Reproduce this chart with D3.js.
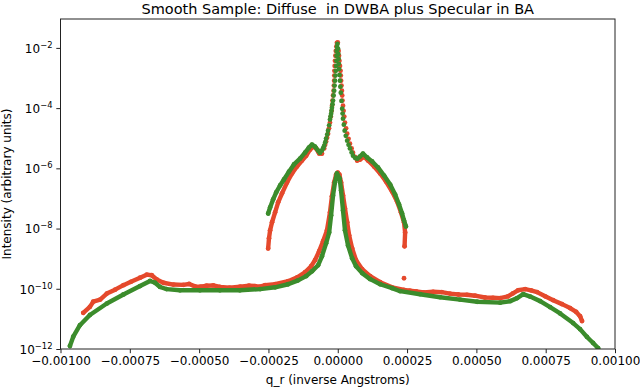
<!DOCTYPE html>
<html><head><meta charset="utf-8">
<script src="https://cdn.jsdelivr.net/npm/d3@7"></script>
<style>body{margin:0;background:#fff}svg{display:block}text{font-family:"DejaVu Sans",sans-serif}</style>
</head><body><svg id="c" width="640" height="387"></svg>
<script>
const titleText = "Smooth Sample: Diffuse  in DWBA plus Specular in BA";
const xLabelText = "q_r (inverse Angstroms)";
const yLabelText = "Intensity (arbitrary units)";
const xTicks = [-0.001, -0.00075, -0.0005, -0.00025, 0, 0.00025, 0.0005, 0.00075, 0.001];
const xTickLabels = ["\u22120.00100", "\u22120.00075", "\u22120.00050", "\u22120.00025", "0.00000", "0.00025", "0.00050", "0.00075", "0.00100"];
const yTickExponents = [-12, -10, -8, -6, -4, -2];

// ---- green series (q in inverse Angstroms, log10 intensity) ----
const greenDiffuseQ = [-9.66e-4,-9.54e-4,-9.30e-4,-8.94e-4,-8.33e-4,-7.73e-4,-7.13e-4,-6.77e-4,-6.59e-4,-6.41e-4,-6.17e-4,-5.69e-4,-4.97e-4,-4.25e-4,-3.53e-4,-2.80e-4,-2.26e-4,-1.79e-4,-1.43e-4,-1.14e-4,-0.93e-4,-0.71e-4,-0.57e-4,-0.42e-4,-0.31e-4,-0.24e-4,-0.17e-4,-0.10e-4,-0.03e-4,0.07e-4,0.12e-4,0.19e-4,0.26e-4,0.37e-4,0.52e-4,0.66e-4,0.88e-4,1.17e-4,1.53e-4,1.96e-4,2.25e-4,2.97e-4,3.69e-4,4.41e-4,5.03e-4,5.86e-4,6.22e-4,6.47e-4,6.69e-4,6.94e-4,7.30e-4,7.66e-4,8.02e-4,8.49e-4,8.74e-4,8.99e-4,9.21e-4,9.39e-4];
const greenDiffuseLog = [-11.90,-11.59,-11.21,-10.87,-10.49,-10.19,-9.91,-9.74,-9.80,-9.94,-10.01,-10.05,-10.05,-10.05,-10.05,-10.01,-9.95,-9.85,-9.72,-9.58,-9.42,-9.22,-8.92,-8.49,-8.13,-7.56,-6.90,-6.47,-6.17,-6.34,-6.74,-7.40,-8.06,-8.56,-8.99,-9.25,-9.48,-9.68,-9.85,-9.98,-10.08,-10.18,-10.28,-10.36,-10.43,-10.46,-10.41,-10.31,-10.18,-10.26,-10.41,-10.61,-10.82,-11.14,-11.34,-11.60,-11.80,-11.97];
const greenUpperLeftQ = [-2.51e-4,-2.44e-4,-2.33e-4,-2.22e-4,-2.08e-4,-1.94e-4,-1.76e-4,-1.58e-4,-1.36e-4,-1.18e-4,-1.04e-4,-0.93e-4,-0.82e-4,-0.71e-4,-0.64e-4];
const greenUpperLeftLog = [-7.50,-7.30,-7.03,-6.80,-6.57,-6.37,-6.11,-5.87,-5.68,-5.48,-5.31,-5.21,-5.28,-5.41,-5.48];
const greenSpikeQ = [-0.57e-4,-0.53e-4,-0.49e-4,-0.45e-4,-0.42e-4,-0.38e-4,-0.35e-4,-0.31e-4,-0.28e-4,-0.26e-4,-0.24e-4,-0.225e-4,-0.21e-4,-0.19e-4,-0.17e-4,-0.15e-4,-0.13e-4,-0.115e-4,-0.10e-4,-0.085e-4,-0.07e-4,-0.06e-4,-0.05e-4,-0.045e-4,-0.04e-4,-0.025e-4,-0.01e-4,0.01e-4,0.02e-4,0.03e-4,0.04e-4,0.05e-4,0.065e-4,0.08e-4,0.095e-4,0.11e-4,0.135e-4,0.16e-4,0.175e-4,0.19e-4,0.22e-4,0.25e-4,0.29e-4,0.34e-4,0.39e-4,0.44e-4,0.50e-4,0.55e-4,0.62e-4];
const greenSpikeLog = [-5.41,-5.33,-5.25,-5.13,-5.01,-4.88,-4.75,-4.57,-4.38,-4.28,-4.19,-4.09,-3.99,-3.87,-3.75,-3.58,-3.42,-3.25,-3.09,-2.92,-2.76,-2.60,-2.43,-2.26,-2.10,-1.97,-1.87,-2.03,-2.20,-2.36,-2.53,-2.70,-2.90,-3.09,-3.29,-3.49,-3.76,-4.02,-4.18,-4.35,-4.55,-4.75,-4.92,-5.08,-5.22,-5.34,-5.47,-5.58,-5.65];
const greenUpperRightQ = [0.70e-4,0.80e-4,0.91e-4,1.06e-4,1.24e-4,1.45e-4,1.67e-4,1.89e-4,2.07e-4,2.21e-4,2.32e-4,2.39e-4,2.46e-4];
const greenUpperRightLog = [-5.68,-5.61,-5.51,-5.64,-5.77,-5.97,-6.24,-6.54,-6.87,-7.20,-7.50,-7.73,-7.93];

// ---- red series ----
const redDiffuseQ = [-9.18e-4,-8.94e-4,-8.82e-4,-8.57e-4,-8.33e-4,-8.03e-4,-7.73e-4,-7.46e-4,-7.13e-4,-6.89e-4,-6.71e-4,-6.53e-4,-6.29e-4,-5.93e-4,-5.57e-4,-5.36e-4,-5.15e-4,-4.94e-4,-4.73e-4,-4.49e-4,-4.25e-4,-3.90e-4,-3.52e-4,-3.20e-4,-2.98e-4,-2.80e-4,-2.62e-4,-2.26e-4,-1.79e-4,-1.46e-4,-1.18e-4,-0.96e-4,-0.82e-4,-0.67e-4,-0.53e-4,-0.39e-4,-0.28e-4,-0.21e-4,-0.13e-4,-0.06e-4,0,0.06e-4,0.12e-4,0.19e-4,0.26e-4,0.34e-4,0.41e-4,0.52e-4,0.66e-4,0.88e-4,1.17e-4,1.53e-4,1.96e-4,2.39e-4,2.60e-4,2.83e-4,3.10e-4,3.44e-4,3.75e-4,4.05e-4,4.35e-4,4.66e-4,4.95e-4,5.31e-4,5.60e-4,5.86e-4,6.14e-4,6.32e-4,6.50e-4,6.76e-4,6.97e-4,7.19e-4,7.48e-4,7.77e-4,8.09e-4,8.38e-4,8.60e-4,8.74e-4,8.81e-4];
const redDiffuseLog = [-10.80,-10.60,-10.43,-10.36,-10.16,-10.03,-9.88,-9.77,-9.63,-9.53,-9.55,-9.69,-9.80,-9.86,-9.87,-9.84,-9.92,-9.93,-9.90,-9.89,-9.94,-9.96,-9.93,-9.90,-9.91,-9.93,-9.88,-9.85,-9.75,-9.62,-9.45,-9.25,-9.05,-8.75,-8.42,-8.06,-7.46,-6.93,-6.47,-6.21,-6.14,-6.21,-6.47,-6.90,-7.33,-7.79,-8.22,-8.66,-9.05,-9.35,-9.58,-9.78,-9.95,-10.04,-10.06,-10.09,-10.12,-10.10,-10.11,-10.16,-10.19,-10.20,-10.23,-10.29,-10.30,-10.31,-10.25,-10.15,-10.05,-10.01,-10.05,-10.11,-10.25,-10.38,-10.51,-10.64,-10.77,-10.91,-11.07];
const redUpperLeftQ = [-2.51e-4,-2.48e-4,-2.44e-4,-2.37e-4,-2.26e-4,-2.15e-4,-2.01e-4,-1.83e-4,-1.65e-4,-1.47e-4,-1.29e-4,-1.14e-4,-1.00e-4,-0.89e-4,-0.78e-4,-0.67e-4,-0.57e-4];
const redUpperLeftLog = [-8.66,-8.32,-8.06,-7.79,-7.46,-7.13,-6.83,-6.47,-6.17,-5.94,-5.74,-5.58,-5.38,-5.28,-5.34,-5.51,-5.51];
const redSpikeQ = [-0.49e-4,-0.455e-4,-0.42e-4,-0.385e-4,-0.35e-4,-0.315e-4,-0.28e-4,-0.25e-4,-0.22e-4,-0.205e-4,-0.19e-4,-0.17e-4,-0.15e-4,-0.14e-4,-0.13e-4,-0.125e-4,-0.12e-4,-0.11e-4,-0.10e-4,-0.085e-4,-0.07e-4,-0.05e-4,-0.03e-4,0,0.03e-4,0.045e-4,0.06e-4,0.08e-4,0.10e-4,0.11e-4,0.12e-4,0.135e-4,0.15e-4,0.16e-4,0.17e-4,0.19e-4,0.21e-4,0.235e-4,0.26e-4,0.30e-4,0.34e-4,0.39e-4,0.44e-4,0.50e-4,0.55e-4,0.62e-4,2.39e-4];
const redSpikeLog = [-5.34,-5.22,-5.11,-4.98,-4.85,-4.67,-4.48,-4.28,-4.09,-3.92,-3.75,-3.58,-3.42,-3.25,-3.09,-2.92,-2.76,-2.60,-2.43,-2.26,-2.10,-1.95,-1.83,-1.82,-2.10,-2.26,-2.43,-2.60,-2.76,-2.92,-3.09,-3.25,-3.42,-3.58,-3.75,-3.92,-4.09,-4.28,-4.48,-4.67,-4.85,-5.02,-5.18,-5.34,-5.48,-5.62,-9.65];
const redUpperRightQ = [0.70e-4,0.80e-4,0.95e-4,1.09e-4,1.31e-4,1.53e-4,1.74e-4,1.96e-4,2.14e-4,2.28e-4,2.39e-4,2.43e-4,2.41e-4];
const redUpperRightLog = [-5.74,-5.71,-5.61,-5.74,-5.94,-6.17,-6.44,-6.77,-7.10,-7.46,-7.79,-8.13,-8.59];

const RED = "#e5492c", GREEN = "#3b8c2c";
const L = 60.5, R = 615, T = 19, B = 349;
const svg = d3.select("#c");
const x = d3.scaleLinear().domain([-0.001, 0.001]).range([L, R]);
const y = d3.scaleLog().domain([1e-12, Math.pow(10, -1.04)]).range([B, T]);

svg.append("defs").append("clipPath").attr("id", "clip")
  .append("rect").attr("x", L).attr("y", T).attr("width", R - L).attr("height", B - T);
const plot = svg.append("g").attr("clip-path", "url(#clip)");

function pts(qs, ls) { return qs.map((q, i) => [q, Math.pow(10, ls[i])]); }
const line = d3.line().x(d => x(d[0])).y(d => y(d[1]));

function drawSeries(color, joined, dotsOnly) {
  const g = plot.append("g");
  joined.forEach(p => {
    g.append("path").attr("d", line(p)).attr("fill", "none").attr("stroke", color)
      .attr("stroke-width", 4.4).attr("stroke-linecap", "round").attr("stroke-linejoin", "round");
  });
  [...joined, ...dotsOnly].forEach(p => {
    g.selectAll(null).data(p).enter().append("circle")
      .attr("cx", d => x(d[0])).attr("cy", d => y(d[1])).attr("r", 2.4).attr("fill", color);
  });
}
drawSeries(RED,
  [pts(redDiffuseQ, redDiffuseLog), pts(redUpperLeftQ, redUpperLeftLog), pts(redUpperRightQ, redUpperRightLog)],
  [pts(redSpikeQ, redSpikeLog)]);
drawSeries(GREEN,
  [pts(greenDiffuseQ, greenDiffuseLog), pts(greenUpperLeftQ, greenUpperLeftLog), pts(greenUpperRightQ, greenUpperRightLog)],
  [pts(greenSpikeQ, greenSpikeLog)]);

// axes
const xAxis = svg.append("g").attr("transform", `translate(0,${B})`)
  .call(d3.axisBottom(x).tickValues(xTicks).tickFormat((d, i) => xTickLabels[i]).tickSize(4.2).tickPadding(3.5));
xAxis.select(".domain").remove();
xAxis.selectAll("line").attr("stroke", "#222");
xAxis.selectAll("text").attr("font-size", 12).attr("fill", "#000").attr("font-family", "DejaVu Sans");

const yVals = yTickExponents.map(e => Math.pow(10, e));
const yAxis = svg.append("g").attr("transform", `translate(${L},0)`)
  .call(d3.axisLeft(y).tickValues(yVals).tickFormat(() => "").tickSize(4.2));
yAxis.select(".domain").remove();
yAxis.selectAll("line").attr("stroke", "#222");
yAxis.selectAll(".tick").each(function (d, i) {
  const t = d3.select(this).append("text").attr("x", -8).attr("y", 4.3)
    .attr("text-anchor", "end").attr("fill", "#000").attr("font-size", 12);
  t.append("tspan").text("10");
  t.append("tspan").attr("font-size", 8.4).attr("dy", -5).text("\u2212" + Math.abs(yTickExponents[i]));
});

svg.append("rect").attr("x", L).attr("y", T).attr("width", R - L).attr("height", B - T)
  .attr("fill", "none").attr("stroke", "#222").attr("stroke-width", 1);

svg.append("text").attr("x", (L + R) / 2).attr("y", 14).attr("text-anchor", "middle")
  .attr("font-size", 14.5).attr("fill", "#000").style("white-space", "pre").text(titleText);
svg.append("text").attr("x", (L + R) / 2).attr("y", 384).attr("text-anchor", "middle")
  .attr("font-size", 12).attr("fill", "#000").text(xLabelText);
svg.append("text").attr("transform", `translate(11,${(T + B) / 2}) rotate(-90)`).attr("text-anchor", "middle")
  .attr("font-size", 12).attr("fill", "#000").text(yLabelText);
</script></body></html>
